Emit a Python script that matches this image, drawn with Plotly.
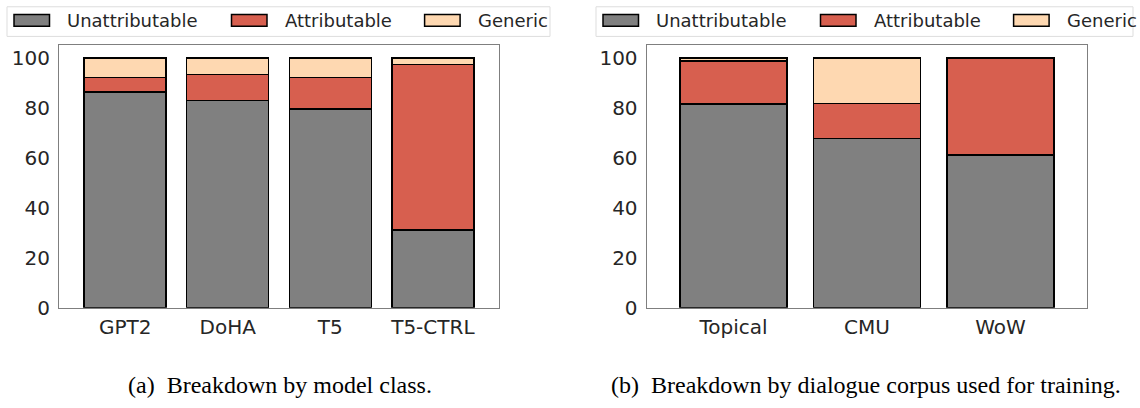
import plotly.graph_objects as go

W, H = 1140, 408

# panel (a): model class
models = ["GPT2", "DoHA", "T5", "T5-CTRL"]
models_unattr = [86.4, 82.9, 79.6, 31.0]
models_attr = [5.8, 10.4, 12.6, 66.3]
models_generic = [7.8, 6.7, 7.8, 2.7]

# panel (b): dialogue corpus
corpora = ["Topical", "CMU", "WoW"]
corpora_unattr = [81.6, 67.8, 61.1]
corpora_attr = [17.2, 14.0, 38.6]
corpora_generic = [1.2, 18.2, 0.3]

series_names = ["Unattributable", "Attributable", "Generic"]
colors = ["#808080", "#d75f4f", "#fed8b1"]

TXT = "#262626"
FONT = "DejaVu Sans"


def px(x):
    return x / W


def py(y):
    return 1 - y / H


fig = go.Figure()

for name, col, a, b in zip(series_names, colors,
                           [models_unattr, models_attr, models_generic],
                           [corpora_unattr, corpora_attr, corpora_generic]):
    fig.add_trace(go.Bar(x=models, y=a, name=name, width=0.8,
                         marker=dict(color=col, line=dict(color="black", width=1.5)),
                         xaxis="x", yaxis="y", showlegend=False))
    fig.add_trace(go.Bar(x=corpora, y=b, name=name, width=0.8,
                         marker=dict(color=col, line=dict(color="black", width=1.5)),
                         xaxis="x2", yaxis="y2", showlegend=False))

axis_common = dict(showline=True, mirror=True, linecolor="#7f7f7f", linewidth=1.2,
                   showgrid=False, zeroline=False, ticks="",
                   tickfont=dict(family=FONT, size=20, color=TXT))
xcommon = dict(ticklabelstandoff=1, **axis_common)
ycommon = dict(tickvals=[0, 20, 40, 60, 80, 100], range=[0, 105],
               ticklabelstandoff=4, **axis_common)

fig.update_layout(
    width=W, height=H, margin=dict(l=0, r=0, t=0, b=0),
    paper_bgcolor="white", plot_bgcolor="white", barmode="stack",
    xaxis=dict(domain=[px(59), px(499)], range=[-0.645, 3.645], anchor="y", **xcommon),
    yaxis=dict(domain=[py(317), py(46.7)], anchor="x", **ycommon),
    xaxis2=dict(domain=[px(646.7), px(1087.3)], range=[-0.65, 2.65], anchor="y2", **xcommon),
    yaxis2=dict(domain=[py(317), py(46.7)], anchor="x2", **ycommon),
)

# hand-drawn legends (matplotlib-style wide swatches)
shapes = []
annotations = []
for x0, x1 in [(7, 550), (596, 1133)]:
    shapes.append(dict(type="rect", xref="paper", yref="paper",
                       x0=px(x0), x1=px(x1), y0=py(37.5), y1=py(7),
                       line=dict(color="#dddddd", width=1), fillcolor="white", layer="below"))
    off = x0 - 7
    for (sx, tx), name, col in zip([(14, 65), (231.5, 282.5), (424.6, 476)], series_names, colors):
        shapes.append(dict(type="rect", xref="paper", yref="paper",
                           x0=px(sx + off), x1=px(sx + off + 35.5), y0=py(27), y1=py(15),
                           line=dict(color="black", width=1.5), fillcolor=col))
        annotations.append(dict(x=px(tx + off), y=py(21), xref="paper", yref="paper",
                                text=name, showarrow=False, xanchor="left", yanchor="middle",
                                font=dict(family=FONT, size=18, color=TXT)))

for cx, text in [(280, "(a)  Breakdown by model class."),
                 (866, "(b)  Breakdown by dialogue corpus used for training.")]:
    annotations.append(dict(x=px(cx), y=py(397), xref="paper", yref="paper", text=text,
                            showarrow=False, xanchor="center", yanchor="middle",
                            font=dict(family="Liberation Serif", size=24, color="black")))

fig.update_layout(shapes=shapes, annotations=annotations)

# drop the default body margin so the figure sits at the window's corner
fig.write_html("out.html", config={"displayModeBar": False},
               post_script="document.body.style.margin = '0';")
